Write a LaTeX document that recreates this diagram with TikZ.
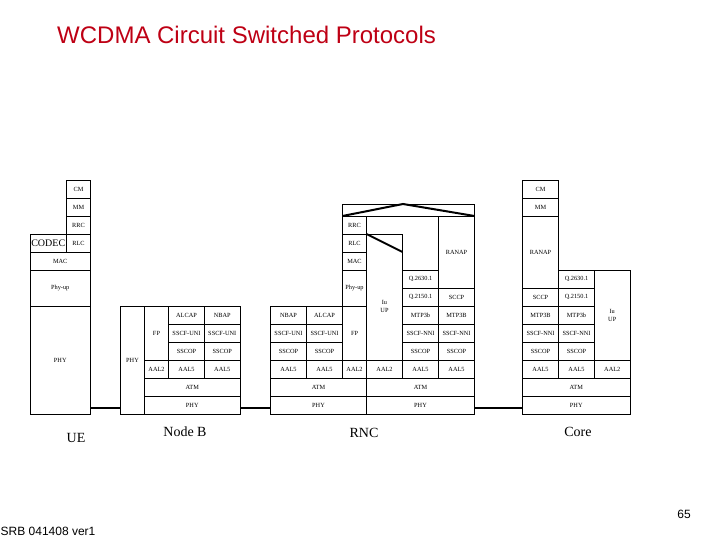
\documentclass[tikz,border=0pt]{standalone}
\usepackage{fontspec}
\setmainfont{Liberation Serif}
\newfontfamily\arialfont{Liberation Sans}
\usetikzlibrary{calc}
\definecolor{titlered}{RGB}{190,0,20}
\tikzset{
  box/.style={draw, line width=0.7pt, inner sep=0pt, outer sep=0pt, anchor=north west,
    font=\fontsize{6.3}{8}\selectfont, align=center},
  link/.style={line width=2pt},
  place/.style={font=\fontsize{14}{14}\selectfont, inner sep=0pt},
}
\newcommand\bx[6]{\node[box, minimum width=#4pt, minimum height=#5pt] (#1) at (#2,#3) {#6};}
\begin{document}
\begin{tikzpicture}[x=1pt,y=-1pt]
\useasboundingbox (0,0) rectangle (720,540);
% title and footer
\node[anchor=west, font=\arialfont\fontsize{24}{24}\selectfont, text=titlered, inner sep=0pt] (title) at (57,35) {WCDMA Circuit Switched Protocols};
\node[anchor=west, font=\arialfont\fontsize{12}{12}\selectfont, inner sep=0pt] (foot) at (0.5,531) {SRB 041408 ver1};
\node[font=\arialfont\fontsize{12}{12}\selectfont, inner sep=0pt] (pg) at (684,514) {65};
% UE
\bx{uecm}{66.5}{180}{24}{18}{CM}
\bx{uemm}{66.5}{198}{24}{18}{MM}
\bx{uerrc}{66.5}{216}{24}{18}{RRC}
\bx{uerlc}{66.5}{234}{24}{18}{RLC}
\node[box, font=\fontsize{10}{10}\selectfont, minimum width=36.5pt, minimum height=18pt] (codec) at (30,234) {CODEC};
\bx{uemac}{30}{252}{60.5}{18}{MAC}
\bx{uephyup}{30}{270}{60.5}{36}{Phy-up}
\bx{uephy}{30}{306}{60.5}{108}{PHY}
% Node B
\bx{nbphy}{120.5}{306}{24}{108}{PHY}
\bx{nbfp}{144.5}{306}{24}{54}{FP}
\bx{nbalcap}{168.5}{306}{36}{18}{ALCAP}
\bx{nbnbap}{204.5}{306}{35.5}{18}{NBAP}
\bx{nbsscfa}{168.5}{324}{36}{18}{SSCF-UNI}
\bx{nbsscfb}{204.5}{324}{35.5}{18}{SSCF-UNI}
\bx{nbsscopa}{168.5}{342}{36}{18}{SSCOP}
\bx{nbsscopb}{204.5}{342}{35.5}{18}{SSCOP}
\bx{nbaaltwo}{144.5}{360}{24}{18}{AAL2}
\bx{nbaala}{168.5}{360}{36}{18}{AAL5}
\bx{nbaalb}{204.5}{360}{35.5}{18}{AAL5}
\bx{nbatm}{144.5}{378}{95.5}{18}{ATM}
\bx{nbphyb}{144.5}{396}{95.5}{18}{PHY}
% RNC
\node[box, minimum width=132pt, minimum height=12pt] (rnctop) at (342.5,204) {};
\draw[link] (rnctop.south west) -- ($(rnctop.north west)!0.458!(rnctop.north east)$) -- (rnctop.south east);
\bx{rncrrc}{342.5}{216}{24}{18}{RRC}
\bx{rncrlc}{342.5}{234}{24}{18}{RLC}
\bx{rncmac}{342.5}{252}{24}{18}{MAC}
\bx{rncphyup}{342.5}{270}{24}{36}{Phy-up}
\bx{rncranap}{438.5}{216}{36}{72}{RANAP}
\bx{rncqa}{402.5}{270}{36}{18}{Q.2630.1}
\bx{rncqb}{402.5}{288}{36}{18}{Q.2150.1}
\bx{rncsccp}{438.5}{288}{36}{18}{SCCP}
\bx{rnciuup}{366.5}{234}{36}{126}{}
\node[font=\fontsize{6.3}{8.5}\selectfont, align=center, inner sep=0pt] (rnciutext) at (384.5,306.5) {Iu\\UP};
\draw[link] (rnciuup.north west) -- ($(rnciuup.north east)+(0,18)$);
\bx{rncnbap}{270.5}{306}{36}{18}{NBAP}
\bx{rncalcap}{306.5}{306}{36}{18}{ALCAP}
\bx{rncsscfa}{270.5}{324}{36}{18}{SSCF-UNI}
\bx{rncsscfb}{306.5}{324}{36}{18}{SSCF-UNI}
\bx{rncsscopa}{270.5}{342}{36}{18}{SSCOP}
\bx{rncsscopb}{306.5}{342}{36}{18}{SSCOP}
\bx{rncfp}{342.5}{306}{24}{54}{FP}
\bx{rncaala}{270.5}{360}{36}{18}{AAL5}
\bx{rncaalb}{306.5}{360}{36}{18}{AAL5}
\bx{rncaalc}{342.5}{360}{24}{18}{AAL2}
\bx{rncaald}{366.5}{360}{36}{18}{AAL2}
\bx{rncaale}{402.5}{360}{36}{18}{AAL5}
\bx{rncaalf}{438.5}{360}{36}{18}{AAL5}
\bx{rncmtpa}{402.5}{306}{36}{18}{MTP3b}
\bx{rncmtpb}{438.5}{306}{36}{18}{MTP3B}
\bx{rncnnia}{402.5}{324}{36}{18}{SSCF-NNI}
\bx{rncnnib}{438.5}{324}{36}{18}{SSCF-NNI}
\bx{rncsscopc}{402.5}{342}{36}{18}{SSCOP}
\bx{rncsscopd}{438.5}{342}{36}{18}{SSCOP}
\bx{rncatma}{270.5}{378}{96}{18}{ATM}
\bx{rncatmb}{366.5}{378}{108}{18}{ATM}
\bx{rncphya}{270.5}{396}{96}{18}{PHY}
\bx{rncphyb}{366.5}{396}{108}{18}{PHY}
% Core
\bx{ccm}{522.5}{180}{36}{18}{CM}
\bx{cmm}{522.5}{198}{36}{18}{MM}
\bx{cranap}{522.5}{216}{36}{72}{RANAP}
\bx{csccp}{522.5}{288}{36}{18}{SCCP}
\bx{cqa}{558.5}{270}{36}{18}{Q.2630.1}
\bx{cqb}{558.5}{288}{36}{18}{Q.2150.1}
\bx{ciuup}{594.5}{270}{35.5}{90}{Iu\\UP}
\bx{cmtpa}{522.5}{306}{36}{18}{MTP3B}
\bx{cmtpb}{558.5}{306}{36}{18}{MTP3b}
\bx{cnnia}{522.5}{324}{36}{18}{SSCF-NNI}
\bx{cnnib}{558.5}{324}{36}{18}{SSCF-NNI}
\bx{csscopa}{522.5}{342}{36}{18}{SSCOP}
\bx{csscopb}{558.5}{342}{36}{18}{SSCOP}
\bx{caala}{522.5}{360}{36}{18}{AAL5}
\bx{caalb}{558.5}{360}{36}{18}{AAL5}
\bx{caalc}{594.5}{360}{35.5}{18}{AAL2}
\bx{catm}{522.5}{378}{107.5}{18}{ATM}
\bx{cphy}{522.5}{396}{107.5}{18}{PHY}
% links
\draw[link] ([yshift=6.5pt]uephy.south east) -- ([yshift=6.5pt]nbphy.south west);
\draw[link] ([yshift=6.5pt]nbphyb.south east) -- ([yshift=6.5pt]rncphya.south west);
\draw[link] ([yshift=6.5pt]rncphyb.south east) -- ([yshift=6.5pt]cphy.south west);
% place labels
\node[place] (lue) at (76,437.5) {UE};
\node[place] (lnb) at (185,432) {Node B};
\node[place] (lrnc) at (364,432.5) {RNC};
\node[place] (lcore) at (578,432) {Core};
\end{tikzpicture}
\end{document}
